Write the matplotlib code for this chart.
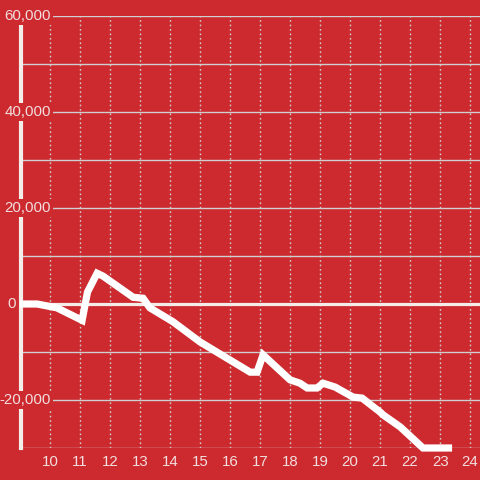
import matplotlib
matplotlib.use("Agg")
import matplotlib.pyplot as plt

# Data
x_vals = [9.0, 9.57, 10.23, 11.07, 11.25, 11.57, 11.77, 12.77, 13.1, 13.33,
          14.1, 15.0, 16.67, 16.9, 17.1, 18.0, 18.33, 18.57, 18.9, 19.1,
          19.5, 20.1, 20.4, 21.0, 21.1, 21.67, 22.43, 23.4]
y_vals = [0, 0, -800, -3400, 2500, 6400, 5800, 1400, 1200, -800,
          -3700, -7900, -14200, -14200, -10600, -15800, -16500, -17500, -17500, -16500,
          -17300, -19400, -19600, -22500, -23100, -25600, -30000, -30000]
x_ticks = list(range(10, 25))
y_label_vals = [60000, 40000, 20000, -20000]
y_label_texts = ["60,000", "40,000", "20,000", "-20,000"]
y_grid_vals = list(range(-30000, 60001, 10000))

BG = "#cc2a2f"
GRID = "#cfcfcf"
LIGHT = "#f3ece8"
TXT = "#f2dede"

plt.rcParams['font.family'] = ['Liberation Sans', 'DejaVu Sans']

fig = plt.figure(figsize=(4.8, 4.8), dpi=100, facecolor=BG)
ax = fig.add_axes([20.5 / 480, 32 / 480, 459.5 / 480, 432 / 480], facecolor=BG)
ax.set_xlim(9.017, 24.33)
ax.set_ylim(-30000, 60000)

for s in ["top", "right", "bottom"]:
    ax.spines[s].set_visible(False)
ax.spines["left"].set_color(LIGHT)
ax.spines["left"].set_linewidth(3)
ax.spines["left"].set_zorder(3)

ax.set_yticks(y_grid_vals)
ax.set_yticklabels([])
ax.tick_params(axis="y", length=0)
ax.set_xticks(x_ticks)
ax.set_xticklabels([str(t) for t in x_ticks], color=TXT, fontsize=10.8)
ax.tick_params(axis="x", length=0, pad=5)
ax.grid(axis="y", color=GRID, linewidth=1, zorder=1)
ax.grid(axis="x", color=GRID, linewidth=1, linestyle=(0, (1.2, 2)), zorder=1)
ax.set_axisbelow(True)

ax.axhline(0, color=LIGHT, linewidth=2.3, zorder=2)

ax.plot(x_vals, y_vals, color="white", linewidth=5.2, solid_capstyle="butt",
        solid_joinstyle="miter", zorder=4, clip_on=False)

for v, t in zip(y_label_vals, y_label_texts):
    ax.text(10.03, v, t, ha="right", va="center", color=TXT, fontsize=10.8,
            zorder=6, clip_on=False,
            bbox=dict(boxstyle="square,pad=0.15", facecolor=BG, edgecolor="none"))
ax.text(8.85, 0, "0", ha="right", va="center", color=TXT, fontsize=10.8,
        zorder=6, clip_on=False)

fig.savefig("out.png", dpi=100, facecolor=BG)
